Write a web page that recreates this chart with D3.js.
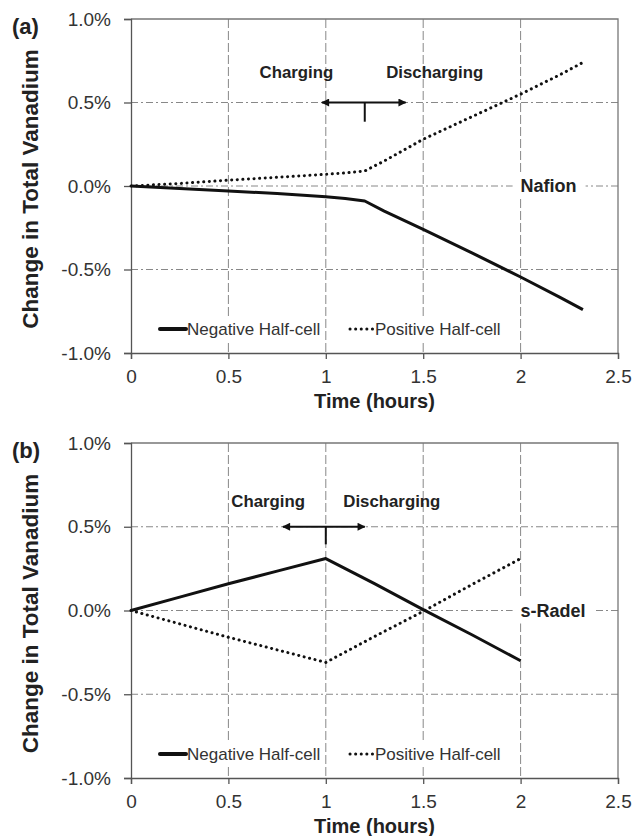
<!DOCTYPE html>
<meta charset="utf-8">
<style>
  body { margin: 0; background: #fff; }
  text { font-family: "Liberation Sans", Arial, sans-serif; fill: #222; }
  .tick text { font-size: 19px; fill: #333; }
  .bold { font-weight: bold; }
  .legend { font-size: 17px; fill: #333; }
</style>
<script src="https://d3js.org/d3.v7.min.js"></script>
<body>
<script>

  // panel (a) Nafion
  var timeA = [0, 0.25, 0.5, 0.75, 1.0, 1.1, 1.2, 1.3, 1.5, 1.75, 2.0, 2.2, 2.32];
  var negA  = [0, -0.015, -0.03, -0.045, -0.065, -0.075, -0.09, -0.15, -0.26, -0.40, -0.545, -0.665, -0.74];
  var posA  = [0, 0.015, 0.035, 0.052, 0.07, 0.078, 0.09, 0.15, 0.28, 0.415, 0.55, 0.665, 0.74];

  // panel (b) s-Radel
  var timeB = [0, 0.25, 0.5, 0.75, 1.0, 1.25, 1.5, 1.75, 2.0];
  var negB  = [0, 0.08, 0.16, 0.235, 0.31, 0.16, 0.005, -0.145, -0.30];
  var posB  = [0, -0.08, -0.16, -0.235, -0.31, -0.155, -0.005, 0.155, 0.31];

  var xTicks = [0, 0.5, 1, 1.5, 2, 2.5];
  var yTicks = [-1, -0.5, 0, 0.5, 1];
  var gridX = [0.5, 1, 1.5, 2];
  var gridY = [-0.5, 0, 0.5];
  var seriesNames = ["Negative Half-cell", "Positive Half-cell"];
  var panelLabels = ["(a)", "(b)"];
  var membranes = ["Nafion", "s-Radel"];

  var W = 634, H = 836;
  var left = 131, right = 618;

  var svg = d3.select("body").append("svg")
              .attr("width", W)
              .attr("height", H);

  var panels = [
    { top: 19,  bottom: 353, time: timeA, neg: negA, pos: posA,
      charge: [0.66, 0.68], discharge: [1.31, 0.68], arrow: [0.98, 1.41, 1.2, 0.385] },
    { top: 443, bottom: 778, time: timeB, neg: negB, pos: posB,
      charge: [0.515, 0.655], discharge: [1.09, 0.655], arrow: [0.78, 1.2, 1.0, 0.395] }
  ];

  var x = d3.scaleLinear().domain([0, 2.5]).range([left, right]);

  svg.append("defs").append("marker")
     .attr("id", "arr")
     .attr("viewBox", "0 0 10 10")
     .attr("refX", 9).attr("refY", 5)
     .attr("markerWidth", 5).attr("markerHeight", 4)
     .attr("markerUnits", "strokeWidth")
     .attr("orient", "auto-start-reverse")
     .append("path")
     .attr("d", "M0,0 L10,5 L0,10 z")
     .attr("fill", "#111");

  panels.forEach(function (p, k) {
    var y = d3.scaleLinear().domain([-1, 1]).range([p.bottom, p.top]);
    var g = svg.append("g");

    // grid
    g.selectAll(".gx").data(gridX).enter().append("line")
      .attr("x1", function (d) { return x(d); }).attr("x2", function (d) { return x(d); })
      .attr("y1", p.top).attr("y2", p.bottom)
      .attr("stroke", "#888").attr("stroke-width", 1)
      .attr("stroke-dasharray", "9,3");
    g.selectAll(".gy").data(gridY).enter().append("line")
      .attr("x1", left).attr("x2", right)
      .attr("y1", function (d) { return y(d); }).attr("y2", function (d) { return y(d); })
      .attr("stroke", "#888").attr("stroke-width", 1)
      .attr("stroke-dasharray", "7,3,2,3");

    // frame top/right
    g.append("path")
      .attr("d", "M" + left + "," + p.top + "H" + right + "V" + p.bottom)
      .attr("fill", "none").attr("stroke", "#777").attr("stroke-width", 1.3);

    // axes
    g.append("g")
      .attr("transform", "translate(" + left + ",0)")
      .call(d3.axisLeft(y).tickValues(yTicks).tickSize(7).tickPadding(13)
        .tickFormat(function (d) { return (d < 0 ? "-" : "") + Math.abs(d).toFixed(1) + "%"; }))
      .call(function (a) { a.selectAll("line, path").attr("stroke", "#555").attr("stroke-width", 1.3); });
    g.append("g")
      .attr("transform", "translate(0," + p.bottom + ")")
      .call(d3.axisBottom(x).tickValues(xTicks).tickSize(6).tickPadding(11)
        .tickFormat(function (d) { return String(d); }))
      .call(function (a) { a.selectAll("line, path").attr("stroke", "#555").attr("stroke-width", 1.3); });

    var data = p.time.map(function (t, i) { return { t: t, n: p.neg[i], p: p.pos[i] }; });
    var lineN = d3.line().x(function (d) { return x(d.t); }).y(function (d) { return y(d.n); });
    var lineP = d3.line().x(function (d) { return x(d.t); }).y(function (d) { return y(d.p); });

    g.append("path").datum(data).attr("d", lineP)
      .attr("fill", "none").attr("stroke", "#111").attr("stroke-width", 3)
      .attr("stroke-linecap", "round").attr("stroke-dasharray", "0.1,5.5");
    g.append("path").datum(data).attr("d", lineN)
      .attr("fill", "none").attr("stroke", "#111").attr("stroke-width", 3)
      .attr("stroke-linejoin", "round");

    // membrane label with white box
    var mx = x(2.0), my = y(0);
    var mbox = g.append("rect").attr("fill", "#fff");
    var mt = g.append("text").attr("class", "bold")
      .attr("x", mx).attr("y", my).attr("dy", "0.35em")
      .style("font-size", "18px").text(membranes[k]);
    var bb = mt.node().getBBox();
    mbox.attr("x", bb.x - 8).attr("y", my - 13)
      .attr("width", bb.width + 17).attr("height", 26);

    // charging / discharging
    g.append("text").attr("class", "bold").style("font-size", "16.8px")
      .attr("x", x(p.charge[0])).attr("y", y(p.charge[1])).attr("dy", "0.35em").text("Charging");
    g.append("text").attr("class", "bold").style("font-size", "16.8px")
      .attr("x", x(p.discharge[0])).attr("y", y(p.discharge[1])).attr("dy", "0.35em").text("Discharging");

    var a = p.arrow;
    g.append("line")
      .attr("x1", x(a[0])).attr("x2", x(a[1]))
      .attr("y1", y(0.5)).attr("y2", y(0.5))
      .attr("stroke", "#111").attr("stroke-width", 2)
      .attr("marker-start", "url(#arr)").attr("marker-end", "url(#arr)");
    g.append("line")
      .attr("x1", x(a[2])).attr("x2", x(a[2]))
      .attr("y1", y(0.5)).attr("y2", y(a[3]))
      .attr("stroke", "#111").attr("stroke-width", 2);

    // legend
    var ly = p.bottom - 24;
    var entries = [
      { x0: 160, x1: 186, dash: null, name: seriesNames[0] },
      { x0: 350, x1: 374, dash: "0.1,5.5", name: seriesNames[1] }
    ];
    entries.forEach(function (e) {
      var lg = g.append("g");
      var bg = lg.append("rect").attr("fill", "#fff");
      lg.append("line")
        .attr("x1", e.x0).attr("x2", e.x1).attr("y1", ly).attr("y2", ly)
        .attr("stroke", "#111").attr("stroke-width", e.dash ? 3 : 4)
        .attr("stroke-linecap", "round")
        .attr("stroke-dasharray", e.dash);
      var t = lg.append("text").attr("class", "legend")
        .attr("x", e.x1 + 1).attr("y", ly).attr("dy", "0.35em").text(e.name);
      var b = t.node().getBBox();
      bg.attr("x", e.x0 - 3).attr("y", ly - 11)
        .attr("width", b.x + b.width - e.x0 + 5).attr("height", 22);
    });

    // panel letter
    svg.append("text").attr("class", "bold").style("font-size", "22px")
      .attr("x", 12).attr("y", p.top + 7).attr("dy", "0.35em").text(panelLabels[k]);

    // axis titles
    svg.append("text").attr("class", "bold").style("font-size", "20px")
      .attr("text-anchor", "middle")
      .attr("x", (left + right) / 2).attr("y", p.bottom + 55)
      .text("Time (hours)");
    svg.append("text").attr("class", "bold").style("font-size", "22.5px")
      .attr("text-anchor", "middle")
      .attr("transform", "translate(38," + ((p.top + p.bottom) / 2 + 3) + ") rotate(-90)")
      .text("Change in Total Vanadium");
  });

</script>
</body>
